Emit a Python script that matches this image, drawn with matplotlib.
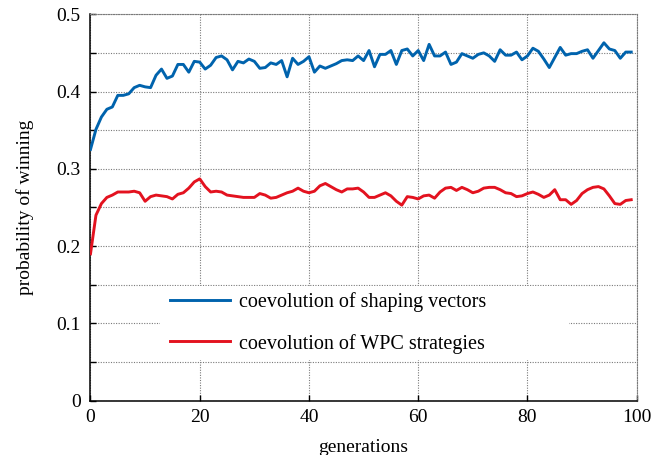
import matplotlib
matplotlib.use("Agg")
import matplotlib.pyplot as plt
from matplotlib.patches import Rectangle
from matplotlib.ticker import MultipleLocator, FuncFormatter

# Data (one value per generation)
generations = list(range(100))

shaping_vectors = [
    0.325, 0.351, 0.367, 0.377, 0.380, 0.395, 0.395, 0.397, 0.405, 0.408,
    0.406, 0.405, 0.421, 0.429, 0.417, 0.420, 0.435, 0.435, 0.425, 0.439,
    0.438, 0.429, 0.434, 0.444, 0.446, 0.441, 0.428, 0.439, 0.437, 0.442,
    0.439, 0.430, 0.431, 0.437, 0.435, 0.440, 0.419, 0.443, 0.435, 0.439,
    0.445, 0.425, 0.433, 0.430, 0.433, 0.436, 0.440, 0.441, 0.440, 0.446,
    0.440, 0.453, 0.432, 0.448, 0.448, 0.453, 0.435, 0.453, 0.455, 0.446,
    0.453, 0.440, 0.461, 0.446, 0.446, 0.451, 0.435, 0.438, 0.449, 0.446,
    0.443, 0.448, 0.450, 0.446, 0.439, 0.454, 0.447, 0.447, 0.451, 0.441,
    0.446, 0.456, 0.452, 0.442, 0.431, 0.444, 0.457, 0.447, 0.449, 0.449,
    0.452, 0.454, 0.443, 0.453, 0.463, 0.455, 0.453, 0.443, 0.451, 0.451,
]

wpc_strategies = [
    0.190, 0.240, 0.255, 0.263, 0.266, 0.270, 0.270, 0.270, 0.271, 0.269,
    0.258, 0.264, 0.266, 0.265, 0.264, 0.261, 0.267, 0.269, 0.275, 0.283,
    0.287, 0.277, 0.270, 0.271, 0.270, 0.266, 0.265, 0.264, 0.263, 0.263,
    0.263, 0.268, 0.266, 0.262, 0.263, 0.266, 0.269, 0.271, 0.275, 0.271,
    0.269, 0.271, 0.278, 0.281, 0.277, 0.273, 0.270, 0.274, 0.274, 0.275,
    0.270, 0.263, 0.263, 0.266, 0.269, 0.265, 0.258, 0.253, 0.264, 0.263,
    0.261, 0.265, 0.266, 0.262, 0.270, 0.275, 0.276, 0.272, 0.276, 0.273,
    0.269, 0.271, 0.275, 0.276, 0.276, 0.273, 0.269, 0.268, 0.264, 0.265,
    0.268, 0.270, 0.267, 0.263, 0.266, 0.273, 0.260, 0.260, 0.254, 0.259,
    0.268, 0.273, 0.276, 0.277, 0.274, 0.265, 0.255, 0.254, 0.259, 0.260,
]

labels = ["coevolution of shaping vectors", "coevolution of WPC strategies"]
colors = ["#0063ad", "#e3121f"]

plt.rcParams["font.family"] = ["Liberation Serif", "DejaVu Serif"]
plt.rcParams["font.size"] = 13

fig = plt.figure(figsize=(6.51, 4.55), dpi=100)
ax = fig.add_axes([0.139, 0.1193, 0.839, 0.8495])

ax.plot(generations, shaping_vectors, color=colors[0], lw=2.1, label=labels[0], zorder=3)
ax.plot(generations, wpc_strategies, color=colors[1], lw=2.1, label=labels[1], zorder=3)

ax.set_xlim(0, 100)
ax.set_ylim(0, 0.5)
ax.xaxis.set_major_locator(MultipleLocator(20))
ax.yaxis.set_major_locator(MultipleLocator(0.1))
ax.yaxis.set_minor_locator(MultipleLocator(0.05))
ax.yaxis.set_major_formatter(FuncFormatter(lambda v, p: "%g" % round(v, 2)))

ax.tick_params(which="both", direction="in", length=4, width=1, color="black",
               labelsize=14)
ax.tick_params(axis="y", which="major", pad=7)
ax.tick_params(axis="x", pad=6)

grid_style = dict(color="#7a7a7a", linestyle=(0, (1, 1.3)), linewidth=0.8)
ax.grid(True, which="major", axis="both", **grid_style)
ax.grid(True, which="minor", axis="y", **grid_style)

for side in ["top", "right"]:
    ax.spines[side].set_color("#7a7a7a")
    ax.spines[side].set_linestyle((0, (1, 1.3)))
    ax.spines[side].set_linewidth(0.8)
for side in ["left", "bottom"]:
    ax.spines[side].set_linewidth(1.1)

ax.set_xlabel("generations", labelpad=9, fontsize=14)
ax.set_ylabel("probability of winning", labelpad=16, fontsize=14)

# white block behind the legend, hiding the grid there
ax.add_patch(Rectangle((0.127, 0.105), 0.749, 0.192, transform=ax.transAxes,
                       facecolor="white", edgecolor="none", zorder=2))

ax.legend(loc="center left", bbox_to_anchor=(0.145, 0.201), frameon=False,
          handlelength=3.0, handletextpad=0.45, labelspacing=1.05,
          borderpad=0, borderaxespad=0, fontsize=14.5)

fig.savefig("out.png", dpi=100)
